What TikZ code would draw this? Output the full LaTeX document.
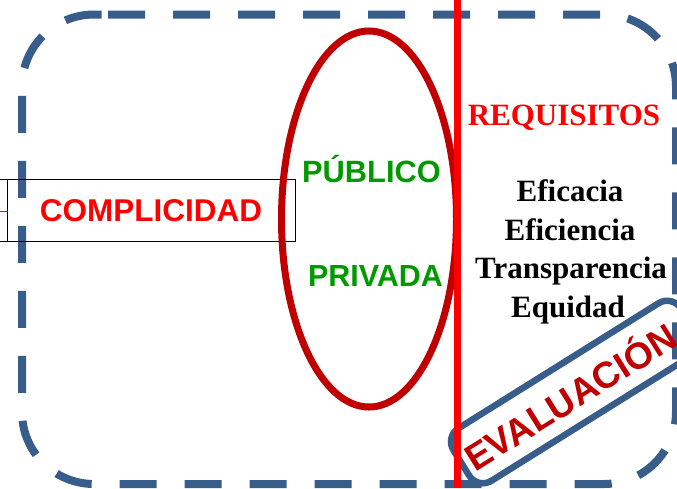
\documentclass[tikz,border=0pt]{standalone}
\usepackage{fontspec}
\setmainfont{Liberation Serif}
\setsansfont{Liberation Sans}
\definecolor{frameblue}{HTML}{385D8A}
\definecolor{darkred}{HTML}{C00000}
\definecolor{vivred}{HTML}{FF0000}
\definecolor{pgreen}{HTML}{009900}
\begin{document}
\begin{tikzpicture}[x=1pt,y=-1pt,
  sanslabel/.style={font=\sffamily\bfseries\fontsize{31.5}{36}\selectfont, inner sep=0pt, anchor=base},
  seriflabel/.style={font=\rmfamily\bfseries\fontsize{31}{36}\selectfont, inner sep=0pt, anchor=base},
  plainbox/.style={draw=black, line width=1pt, inner sep=0pt}]
\useasboundingbox (0,0) rectangle (677,488);
\clip (0,0) rectangle (677,488);
% dashed rounded frame
\draw[frameblue, line width=8pt, dash pattern=on 37pt off 28pt, rounded corners=72pt]
  (108,14.5) -- (676,14.5) -- (676,484) -- (22,484) -- (22,14.5) -- (108,14.5);
% boxes
\node[plainbox, minimum width=80pt, minimum height=62pt] (prev) at (-33,210) {};
\node[plainbox, minimum width=288pt, minimum height=62pt] (comp) at (151,210) {};
\coordinate (lin) at (0,211);
\draw[vivred, line width=1pt] (lin) -- (lin -| comp.west);
\node[sanslabel, text=vivred] (complicidad) at (151,221) {COMPLICIDAD};
% ellipse
\draw[darkred, line width=7pt] (369,219) ellipse [x radius=87.5, y radius=188];
\node[sanslabel, text=pgreen, font=\sffamily\bfseries\fontsize{30.8}{36}\selectfont] (publico) at (371.5,182) {PÚBLICO};
\node[sanslabel, text=pgreen, font=\sffamily\bfseries\fontsize{30.5}{36}\selectfont] (privada) at (375.5,286.5) {PRIVADA};
% requisitos
\node[seriflabel, text=vivred] (req) at (564,125) {REQUISITOS};
\node[seriflabel] (efic) at (570,201.7) {Eficacia};
\node[seriflabel] (efin) at (570,240.2) {Eficiencia};
\node[seriflabel] (trans) at (571,278.7) {Transparencia};
\node[seriflabel] (equi) at (568,317.2) {Equidad};
% evaluacion
\node[draw=frameblue, line width=6.5pt, rounded corners=16pt, minimum width=268pt, minimum height=62pt, rotate=32] (evalbox) at (575,392) {};
\node[text=darkred, font=\sffamily\bfseries\fontsize{37}{42}\selectfont, inner sep=0pt, rotate=32] (evaltext) at (569,395) {EVALUACIÓN};
% red vertical line
\coordinate (rtop) at (457.5,0);
\coordinate (rbot) at (457.5,488);
\draw[vivred, line width=6.5pt] (rtop) -- (rbot);
\end{tikzpicture}
\end{document}
